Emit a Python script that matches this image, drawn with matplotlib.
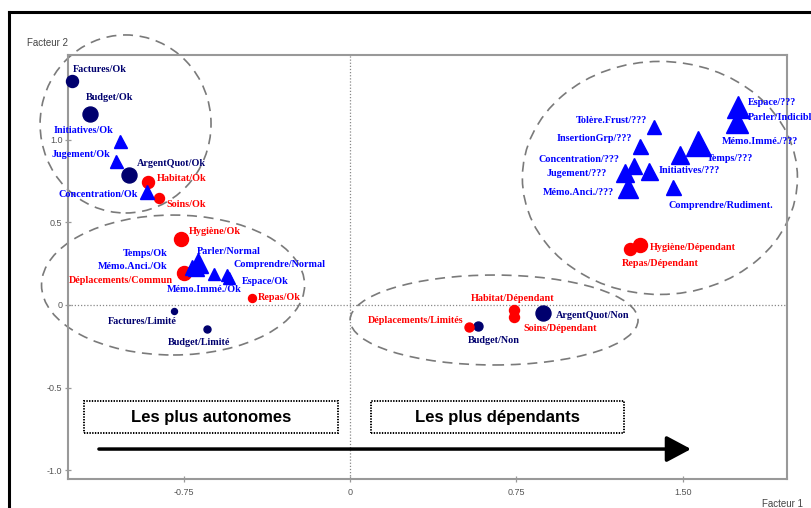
import matplotlib
matplotlib.use("Agg")
import matplotlib.pyplot as plt
from matplotlib.patches import Ellipse, Rectangle, FancyArrowPatch
from matplotlib.lines import Line2D

# modalités : coordonnées sur les facteurs 1 et 2, poids du symbole
marine_labels = ["Factures/Ok", "Budget/Ok", "ArgentQuot/Ok", "Factures/Limité",
                 "Budget/Limité", "Budget/Non", "ArgentQuot/Non"]
marine_x = [-1.252, -1.171, -0.995, -0.793, -0.644, 0.577, 0.869]
marine_y = [1.358, 1.158, 0.788, -0.036, -0.145, -0.127, -0.048]
marine_w = [12, 15, 15, 6, 7, 9, 15]

rouge_labels = ["Habitat/Ok", "Soins/Ok", "Hygiène/Ok", "Déplacements/Commun", "Repas/Ok",
                "Déplacements/Limités", "Habitat/Dépendant", "Soins/Dépendant",
                "Hygiène/Dépendant", "Repas/Dépendant"]
rouge_x = [-0.910, -0.860, -0.761, -0.748, -0.441, 0.536, 0.739, 0.739, 1.306, 1.261]
rouge_y = [0.745, 0.648, 0.400, 0.194, 0.042, -0.133, -0.030, -0.073, 0.364, 0.339]
rouge_w = [12, 10, 14, 14, 8, 9, 10, 10, 14, 12]

bleu_labels = ["Initiatives/Ok", "Jugement/Ok", "Concentration/Ok", "Temps/Ok",
               "Parler/Normal", "Mémo.Anci./Ok", "Mémo.Immé./Ok", "Comprendre/Normal",
               "Espace/Ok", "Espace/???", "Parler/Indicible", "Tolère.Frust/???",
               "InsertionGrp/???", "Temps/???", "Mémo.Immé./???", "Concentration/???",
               "Jugement/???", "Initiatives/???", "Mémo.Anci./???", "Comprendre/Rudiment."]
bleu_x = [-1.036, -1.054, -0.914, -0.712, -0.685, -0.694, -0.613, -0.554, -0.545,
          1.748, 1.743, 1.369, 1.306, 1.568, 1.486, 1.279, 1.239, 1.347, 1.252, 1.455]
bleu_y = [0.994, 0.873, 0.685, 0.230, 0.255, 0.224, 0.188, 0.182, 0.164,
          1.200, 1.109, 1.079, 0.964, 0.982, 0.909, 0.842, 0.800, 0.812, 0.709, 0.715]
bleu_w = [13, 13, 14, 15, 20, 16, 12, 12, 12, 22, 22, 14, 15, 25, 18, 16, 18, 17, 20, 15]

x_ticks = [-0.75, 0, 0.75, 1.50]
x_ticklabels = ["-0.75", "0", "0.75", "1.50"]
y_ticks = [1.0, 0.5, 0, -0.5, -1.0]
y_ticklabels = ["1.0", "0.5", "0", "-0.5", "-1.0"]

# décalage des étiquettes (pixels, vers la droite / vers le bas) et alignement
decalage = {
    "Factures/Ok": (1, -11, "left"), "Budget/Ok": (-4, -16, "left"),
    "ArgentQuot/Ok": (8, -11, "left"), "Factures/Limité": (-32, 11, "center"),
    "Budget/Limité": (-8, 14, "center"), "Budget/Non": (16, 15, "center"),
    "ArgentQuot/Non": (13, 3, "left"),
    "Habitat/Ok": (9, -4, "left"), "Soins/Ok": (7, 6, "left"),
    "Hygiène/Ok": (8, -7, "left"), "Déplacements/Commun": (-11, 8, "right"),
    "Repas/Ok": (6, -1, "left"), "Déplacements/Limités": (-6, -6, "right"),
    "Habitat/Dépendant": (-1, -11, "center"), "Soins/Dépendant": (9, 11, "left"),
    "Hygiène/Dépendant": (10, 3, "left"), "Repas/Dépendant": (-8, 14, "left"),
    "Initiatives/Ok": (-7, -10, "right"), "Jugement/Ok": (-6, -6, "right"),
    "Concentration/Ok": (-9, 3, "right"), "Temps/Ok": (-24, -14, "right"),
    "Parler/Normal": (-1, -11, "left"), "Mémo.Anci./Ok": (-28, -2, "right"),
    "Mémo.Immé./Ok": (-10, 16, "center"), "Comprendre/Normal": (6, -10, "left"),
    "Espace/Ok": (13, 4, "left"), "Espace/???": (10, -4, "left"),
    "Parler/Indicible": (11, -4, "left"), "Tolère.Frust/???": (-7, -6, "right"),
    "InsertionGrp/???": (-8, -7, "right"), "Temps/???": (9, 16, "left"),
    "Mémo.Immé./???": (80, -13, "center"), "Concentration/???": (-15, -7, "right"),
    "Jugement/???": (-18, 1, "right"), "Initiatives/???": (10, -1, "left"),
    "Mémo.Anci./???": (-14, 4, "right"), "Comprendre/Rudiment.": (-5, 18, "left"),
}

MARINE = "#00006e"
ROUGE = "#ff0000"
BLEU = "#0000ff"
GRIS = "#888888"
PX = 72 / 100  # points par pixel

fig = plt.figure(figsize=(8.11, 5.08), dpi=100)
ax = fig.add_axes([68 / 811, 1 - 479 / 508, (787 - 68) / 811, (479 - 55) / 508])
ax.set_xlim(-1.2703, 1.9685)
ax.set_ylim(-1.0545, 1.515)

for s in ax.spines.values():
    s.set_color("#999999")
    s.set_linewidth(1.5)
ax.set_xticks(x_ticks, x_ticklabels)
ax.set_yticks(y_ticks, y_ticklabels)
ax.tick_params(direction="inout", length=5, width=0.9, color="#999999",
               labelsize=6.5, labelcolor="#555555")
ax.tick_params(axis="x", pad=4)
ax.tick_params(axis="y", pad=1.5)
for t in ax.get_xticklabels() + ax.get_yticklabels():
    t.set_family("Liberation Sans")

ax.axhline(0, color=GRIS, lw=0.9, ls=(0, (1, 1.5)), zorder=1)
ax.axvline(0, color=GRIS, lw=0.9, ls=(0, (1, 1.5)), zorder=1)

# regroupements
groupes = [(-1.011, 1.097, 0.770, 1.079), (-0.797, 0.121, 1.185, 0.848),
           (0.649, -0.091, 1.297, 0.545), (1.396, 0.770, 1.239, 1.412)]
for cx, cy, w, h in groupes:
    ax.add_patch(Ellipse((cx, cy), w, h, fill=False, ec="#7a7a7a", lw=1.2,
                         ls=(0, (6, 4)), clip_on=False, zorder=2))


def tracer(xs, ys, ws, labels, couleur, marqueur):
    for x, y, w, lab in zip(xs, ys, ws, labels):
        ax.plot(x, y, marker=marqueur, ms=w * PX, color=couleur, mec=couleur,
                ls="none", zorder=4, clip_on=False)
        dx, dy, ha = decalage[lab]
        ax.annotate(lab, (x, y), xytext=(dx, -dy), textcoords="offset pixels",
                    ha=ha, va="center", color=couleur, fontsize=7.3,
                    family="Liberation Serif", weight="bold", zorder=5,
                    annotation_clip=False)


tracer(marine_x, marine_y, marine_w, marine_labels, MARINE, "o")
tracer(rouge_x, rouge_y, rouge_w, rouge_labels, ROUGE, "o")
tracer(bleu_x, bleu_y, bleu_w, bleu_labels, BLEU, "^")

# encadrés et flèche
for x0, x1, txt in [(-1.198, -0.054, "Les plus autonomes"),
                    (0.095, 1.234, "Les plus dépendants")]:
    ax.add_patch(Rectangle((x0, -0.776), x1 - x0, 0.194, fc="white", ec="black",
                           lw=1.4, ls=(0, (0.7, 0.7)), zorder=3))
    ax.text((x0 + x1) / 2, -0.679, txt, ha="center", va="center", fontsize=12,
            weight="bold", family="Liberation Sans", zorder=4)

ax.add_patch(FancyArrowPatch((-1.131, -0.873), (1.536, -0.873),
                             arrowstyle="-|>,head_length=1.5,head_width=0.8",
                             mutation_scale=10, lw=2.5, color="black",
                             shrinkA=0, shrinkB=0, zorder=3))

fig.text(27 / 811, 1 - 43 / 508, "Facteur 2", fontsize=7, color="#444444",
         family="Liberation Sans", va="center")
fig.text(762 / 811, 1 - 504 / 508, "Facteur 1", fontsize=7, color="#444444",
         family="Liberation Sans", va="center")

# cadre extérieur
fig.add_artist(Line2D([9 / 811, 9 / 811], [0, 1 - 12 / 508], transform=fig.transFigure,
                      color="black", lw=2.2))
fig.add_artist(Line2D([9 / 811, 1], [1 - 12 / 508, 1 - 12 / 508],
                      transform=fig.transFigure, color="black", lw=2.2))

fig.savefig("out.png", dpi=100)
